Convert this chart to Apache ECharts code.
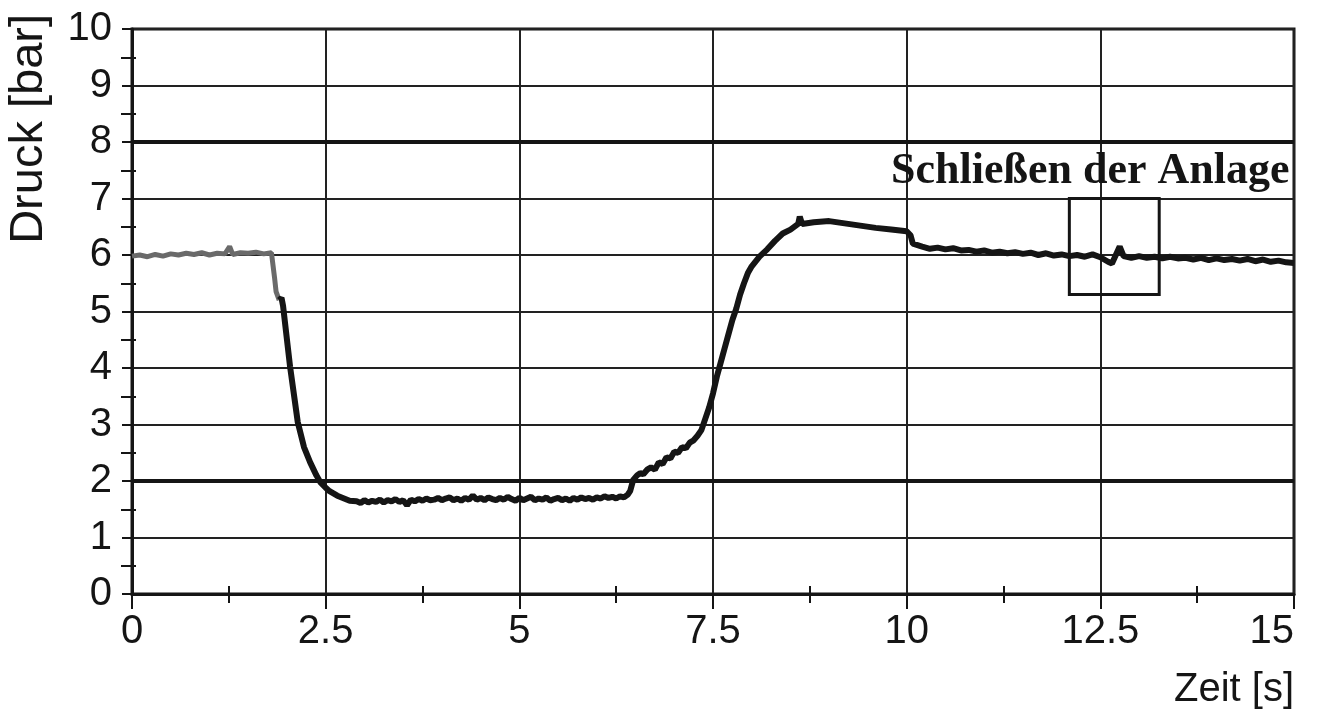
<!DOCTYPE html>
<html>
<head>
<meta charset="utf-8">
<script src="https://cdn.jsdelivr.net/npm/echarts@6/dist/echarts.min.js"></script>
<style>
  html, body { margin: 0; padding: 0; background: #fff; }
  #chart { width: 1332px; height: 727px; }
</style>
</head>
<body>
<div id="chart"></div>
<script>
// Zeit [s]
const zeit = [
  0, 0.1, 0.2, 0.3, 0.4, 0.5, 0.6, 0.7, 0.8, 0.9, 1.0, 1.1, 1.2, 1.26, 1.3, 1.4, 1.5, 1.6, 1.7, 1.8, 1.82,
  1.84, 1.86, 1.9, 1.93, 1.95, 2.04, 2.14, 2.22, 2.3, 2.38, 2.43, 2.5, 2.55, 2.65, 2.81,
  2.9, 2.95, 3.0, 3.05, 3.1, 3.15, 3.2, 3.25, 3.3, 3.35, 3.4, 3.45, 3.5, 3.55, 3.6, 3.65, 3.7, 3.75,
  3.8, 3.85, 3.9, 3.95, 4.0, 4.05, 4.1, 4.15, 4.2, 4.25, 4.3, 4.35, 4.4, 4.45, 4.5, 4.55, 4.6, 4.65,
  4.7, 4.75, 4.8, 4.85, 4.9, 4.95, 5.0, 5.05, 5.1, 5.15, 5.2, 5.25, 5.3, 5.35, 5.4, 5.45, 5.5, 5.55,
  5.6, 5.65, 5.7, 5.75, 5.8, 5.85, 5.9, 5.95, 6.0, 6.05, 6.1, 6.15, 6.2, 6.25, 6.3, 6.35, 6.4, 6.43,
  6.47, 6.52, 6.56, 6.6, 6.65, 6.7, 6.75, 6.8, 6.85, 6.9, 6.95, 7.0, 7.05, 7.1, 7.15, 7.2, 7.25, 7.3,
  7.35, 7.4, 7.45, 7.5, 7.55, 7.6, 7.65, 7.7, 7.75, 7.8, 7.85, 7.9, 7.95, 8.0, 8.1, 8.2, 8.3, 8.4,
  8.5, 8.6, 8.62, 8.65, 8.8, 9.0, 9.2, 9.4, 9.6, 9.8, 10.0, 10.05, 10.08, 10.2, 10.3, 10.4, 10.5,
  10.6, 10.7, 10.8, 10.9, 11.0, 11.1, 11.2, 11.3, 11.4, 11.5, 11.6, 11.7, 11.8, 11.9, 12.0, 12.1,
  12.2, 12.3, 12.4, 12.5, 12.6, 12.65, 12.7, 12.75, 12.8, 12.9, 13.0, 13.1, 13.2, 13.3, 13.4, 13.5,
  13.6, 13.7, 13.8, 13.9, 14.0, 14.1, 14.2, 14.3, 14.4, 14.5, 14.6, 14.7, 14.8, 14.9, 15.0
]
// Druck [bar]
const druck = [
  5.98, 6.0, 5.97, 6.01, 5.98, 6.02, 6.0, 6.03, 6.01, 6.04, 6.0, 6.03, 6.02, 6.15, 6.01, 6.04, 6.03, 6.05, 6.02, 6.04, 6.03,
  5.6, 5.35, 5.2, 5.24, 5.1, 4.03, 3.04, 2.6, 2.33, 2.1, 1.98, 1.88, 1.82, 1.74, 1.65,
  1.64, 1.61, 1.66, 1.62, 1.65, 1.63, 1.67, 1.62, 1.66, 1.64, 1.68, 1.63, 1.66, 1.57, 1.67, 1.64, 1.68, 1.65,
  1.69, 1.66, 1.67, 1.7, 1.66, 1.69, 1.71, 1.66, 1.69, 1.65, 1.7, 1.67, 1.74, 1.67, 1.7, 1.66, 1.71, 1.68,
  1.66, 1.7, 1.67, 1.72, 1.68, 1.65, 1.7, 1.66, 1.69, 1.72, 1.66, 1.69, 1.67, 1.71, 1.65, 1.68, 1.7, 1.66,
  1.69, 1.65, 1.7, 1.67, 1.71, 1.68, 1.7, 1.67, 1.71, 1.69, 1.73, 1.7, 1.72, 1.69, 1.73, 1.71, 1.76, 1.82,
  2.02, 2.1, 2.14, 2.12, 2.2, 2.24, 2.2, 2.33, 2.3, 2.42, 2.4, 2.52, 2.5, 2.6, 2.58, 2.68, 2.72, 2.8,
  2.9, 3.1, 3.3, 3.55, 3.85, 4.1, 4.35, 4.6, 4.85, 5.05, 5.3, 5.5, 5.68, 5.8, 5.97, 6.1, 6.25, 6.38,
  6.45, 6.55, 6.68, 6.55, 6.58, 6.6, 6.56, 6.52, 6.48, 6.45, 6.42, 6.35, 6.2, 6.15, 6.11, 6.13, 6.1,
  6.12, 6.08, 6.09, 6.06, 6.08, 6.04, 6.06, 6.03, 6.05, 6.02, 6.04, 6.0, 6.03, 5.99, 6.01, 5.98,
  6.0, 5.97, 6.01, 5.96, 5.88, 5.85, 6.0, 6.15, 5.98, 5.95, 5.98, 5.95, 5.97, 5.94, 5.97, 5.94,
  5.95, 5.92, 5.95, 5.91, 5.94, 5.91, 5.93, 5.9, 5.93, 5.89, 5.92, 5.88, 5.9, 5.87, 5.86
]

const xHalbTicks = [1.25, 3.75, 6.25, 8.75, 11.25, 13.75]
const yHalbTicks = [0.5, 1.5, 2.5, 3.5, 4.5, 5.5, 6.5, 7.5, 8.5, 9.5]
const grenzen = [2, 8]
const boxVon = [12.1, 7.0]
const boxBis = [13.26, 5.3]
const notizPos = [12.37, 7.47]
const notizText = 'Schließen der Anlage'
const grauBis = 1.9 // der Anfang der Kurve ist heller gedruckt

const schwarz = '#151515'
const sans = "'Liberation Sans', Arial, sans-serif"

const punkte = zeit.map((t, i) => [t, druck[i]])
const grauTeil = punkte.filter(p => p[0] <= grauBis)
const schwarzTeil = punkte.filter(p => p[0] >= grauBis)

const chart = echarts.init(document.getElementById('chart'))

function tickAxis(type, values, inside, len) {
  return {
    type: 'value', min: 0, max: type === 'x' ? 15 : 10,
    axisLine: { show: false },
    axisLabel: { show: false },
    splitLine: { show: false },
    axisTick: {
      show: true, inside: inside, length: len, customValues: values,
      lineStyle: { color: schwarz, width: 2 }
    }
  }
}

chart.setOption({
  animation: false,
  backgroundColor: '#fff',
  grid: {
    left: 132, right: 38, top: 29, bottom: 133,
    show: true, borderColor: schwarz, borderWidth: 3
  },
  xAxis: [
    {
      type: 'value', min: 0, max: 15, interval: 2.5,
      name: 'Zeit [s]', nameLocation: 'end', nameGap: 0,
      nameTextStyle: {
        fontFamily: sans, fontSize: 40, color: schwarz,
        align: 'right', verticalAlign: 'top', padding: [76, 0, 0, 0]
      },
      axisLine: { show: true, lineStyle: { color: schwarz, width: 3 } },
      axisTick: { show: true, length: 15, lineStyle: { color: schwarz, width: 2 } },
      axisLabel: {
        fontFamily: sans, fontSize: 40, color: schwarz, margin: 18,
        alignMaxLabel: 'right'
      },
      splitLine: { show: true, lineStyle: { color: '#222', width: 2 } }
    },
    tickAxis('x', xHalbTicks, true, 9),
    tickAxis('x', xHalbTicks, false, 8)
  ],
  yAxis: [
    {
      type: 'value', min: 0, max: 10, interval: 1,
      axisLine: { show: true, lineStyle: { color: schwarz, width: 3 } },
      axisTick: { show: true, length: 10, lineStyle: { color: schwarz, width: 2 } },
      axisLabel: { fontFamily: sans, fontSize: 40, color: schwarz, margin: 20 },
      splitLine: { show: true, lineStyle: { color: '#222', width: 2 } }
    },
    tickAxis('y', yHalbTicks, true, 11),
    tickAxis('y', yHalbTicks, false, 4)
  ],
  graphic: [{
    type: 'text', left: 6, top: 14, rotation: Math.PI / 2,
    style: { text: 'Druck [bar]', font: "47px 'Liberation Sans', Arial, sans-serif", fill: schwarz }
  }],
  series: [
    {
      type: 'line',
      data: grauTeil,
      showSymbol: false,
      lineStyle: { width: 5, color: '#6a6a6a' },
      z: 3
    },
    {
      type: 'line',
      data: schwarzTeil,
      showSymbol: false,
      lineStyle: { width: 6, color: schwarz },
      z: 3,
      markLine: {
        silent: true, symbol: 'none', label: { show: false },
        lineStyle: { color: schwarz, width: 4, type: 'solid' },
        data: grenzen.map(v => ({ yAxis: v }))
      },
      markArea: {
        silent: true,
        itemStyle: { color: 'rgba(0,0,0,0)', borderColor: schwarz, borderWidth: 3 },
        data: [[{ coord: boxVon }, { coord: boxBis }]]
      },
      markPoint: {
        silent: true, symbol: 'rect', symbolSize: 0,
        label: {
          show: true, position: 'inside', formatter: notizText,
          fontFamily: "'Liberation Serif', 'Times New Roman', serif",
          fontWeight: 'bold', fontSize: 44, color: schwarz
        },
        data: [{ coord: notizPos }]
      }
    }
  ]
})
</script>
</body>
</html>
